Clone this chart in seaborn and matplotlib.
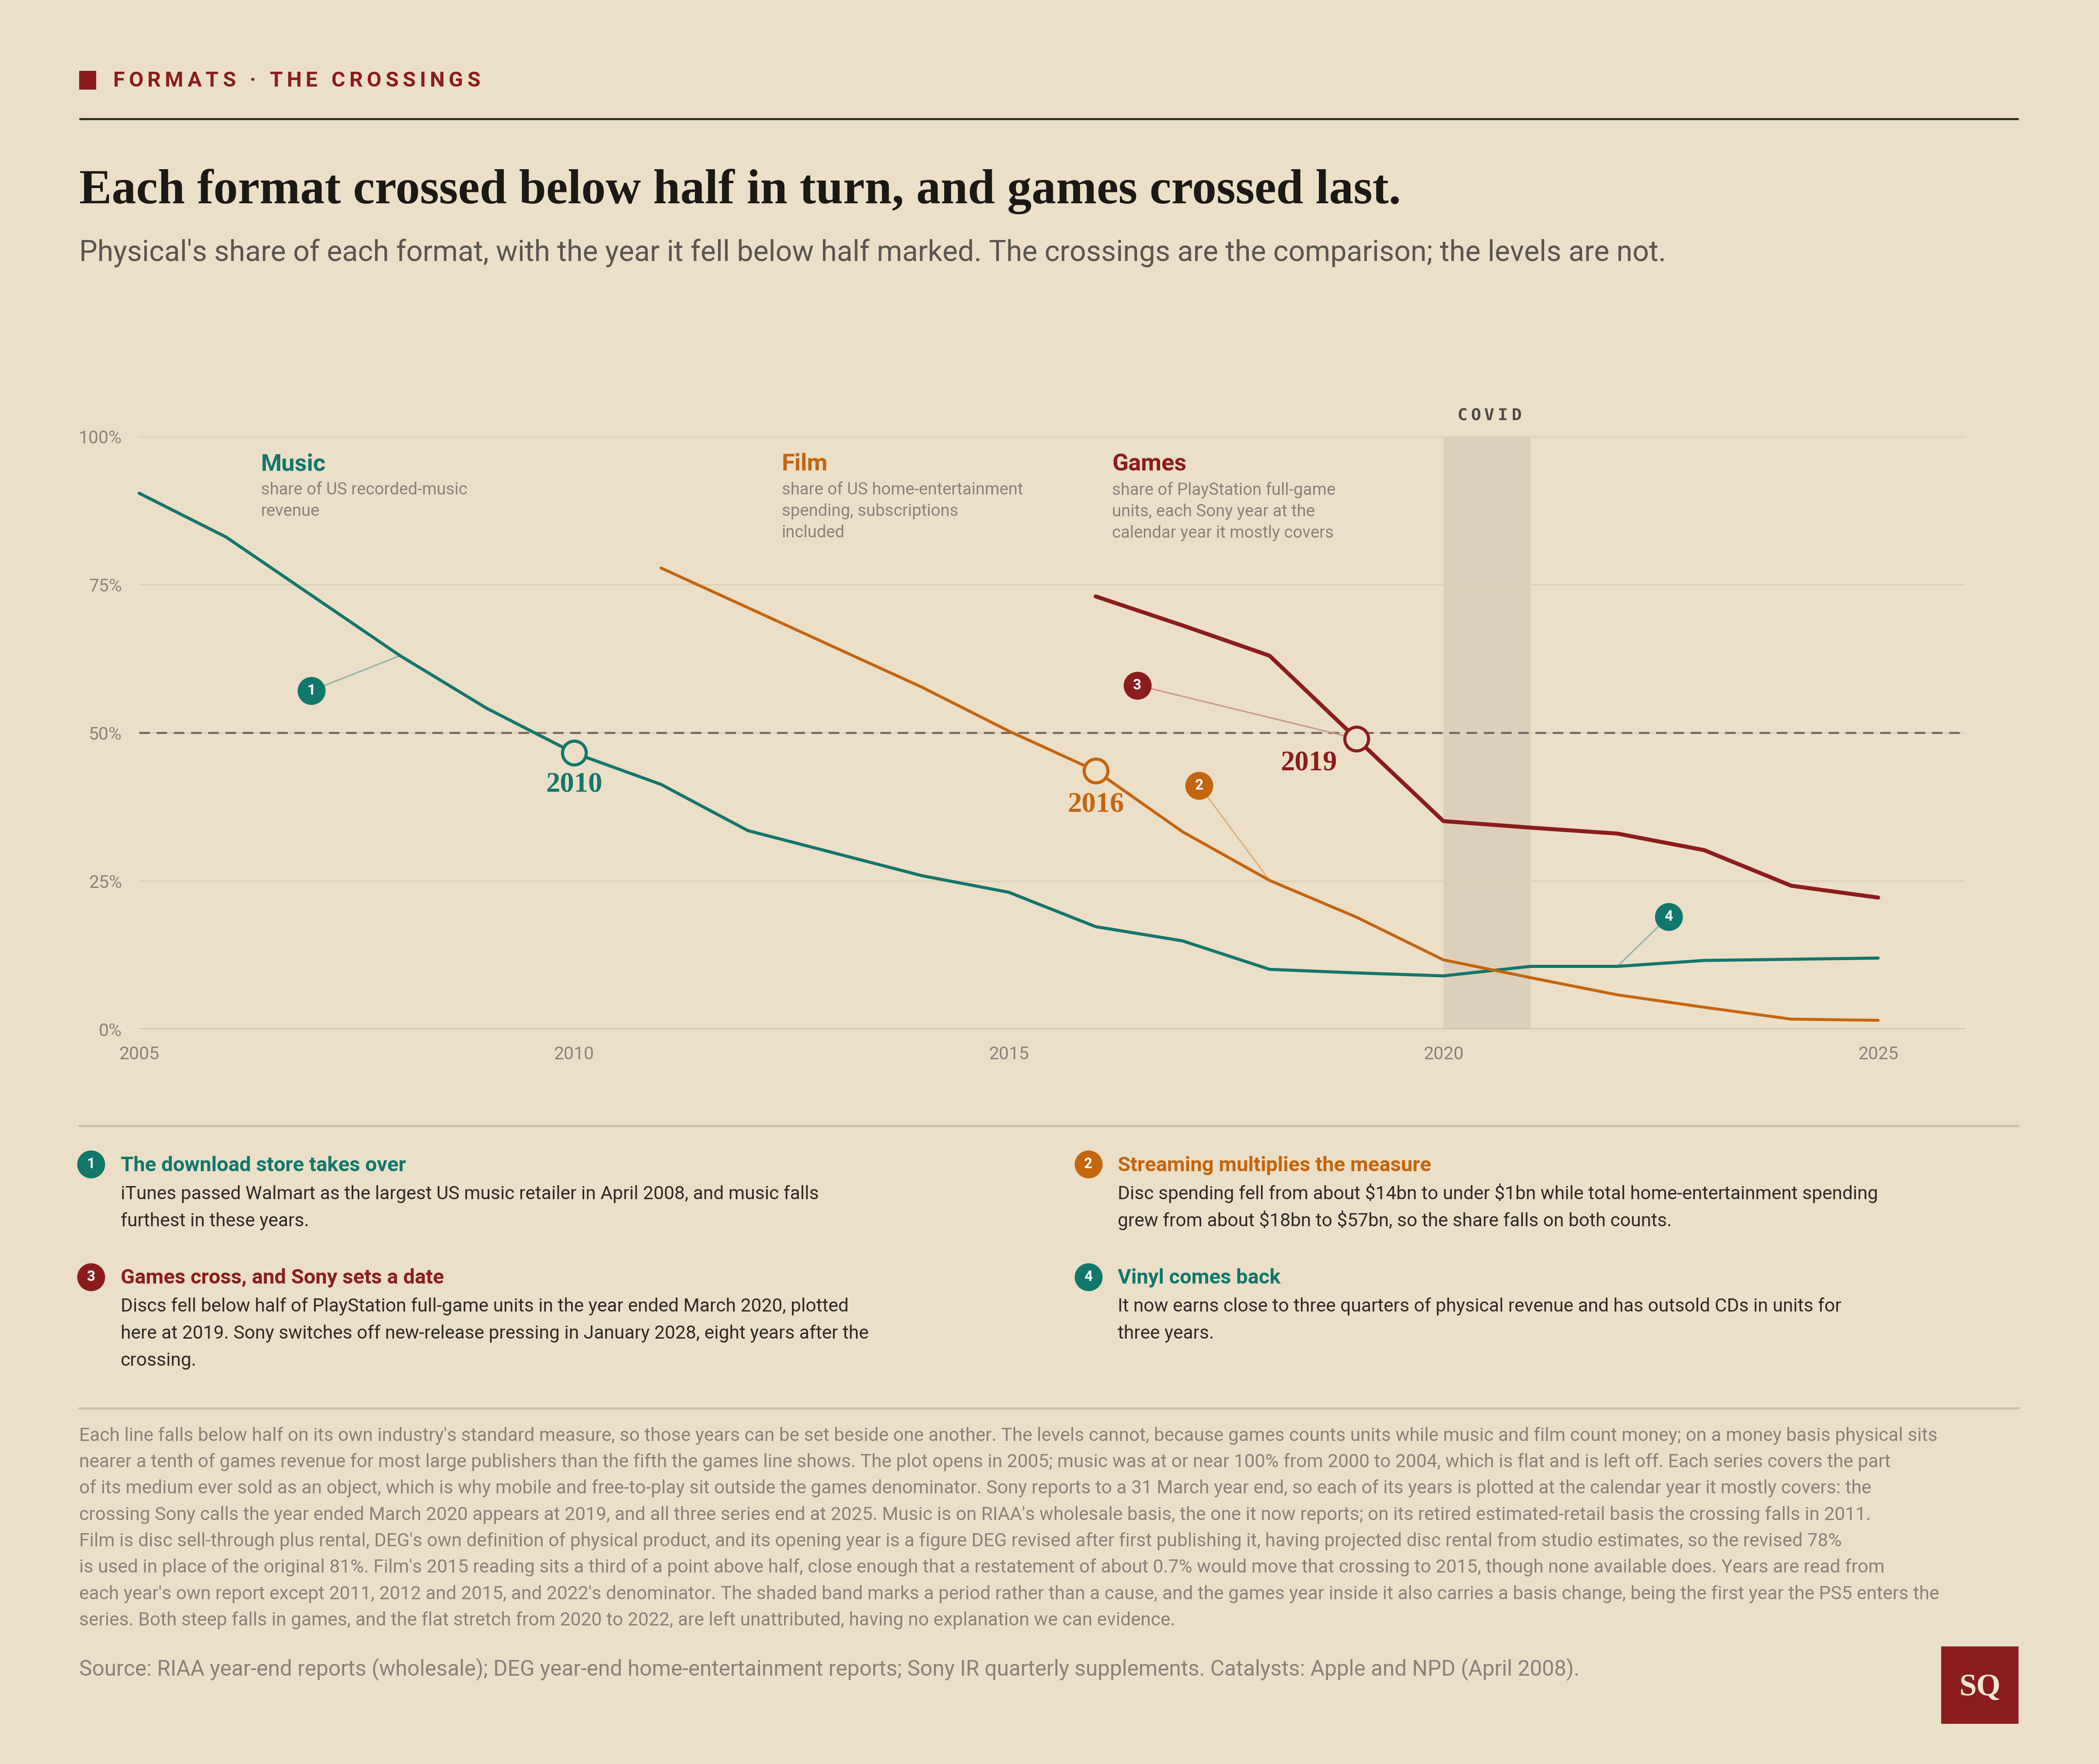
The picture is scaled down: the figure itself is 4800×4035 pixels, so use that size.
import numpy as np
import pandas as pd
import matplotlib
matplotlib.use("Agg")
import matplotlib.pyplot as plt
from matplotlib.patches import Rectangle
import seaborn as sns

# --- data (% physical share) ---
music_years = list(range(2005, 2026))
music_share = [90.4, 83.0, 73.0, 63.0, 54.1, 46.6, 41.3, 33.5, 29.7, 25.9, 23.1,
               17.3, 14.9, 10.1, 9.5, 9.0, 10.6, 10.6, 11.6, 11.8, 12.0]
film_years = list(range(2011, 2026))
film_share = [77.8, 71.1, 64.4, 57.7, 50.3, 43.6, 33.3, 25.1, 18.9, 11.7, 8.7,
              5.8, 3.7, 1.7, 1.5]
games_years = list(range(2016, 2026))
games_share = [73.0, 68.1, 63.0, 49.0, 35.1, 34.0, 33.0, 30.2, 24.2, 22.2]

formats = ["Music", "Film", "Games"]
crossing_year = {"Music": 2010, "Film": 2016, "Games": 2019}
covid_span = (2020, 2021)
y_ticks = [0, 25, 50, 75, 100]
x_ticks = [2005, 2010, 2015, 2020, 2025]

series_desc = {
    "Music": "share of US recorded-music\nrevenue",
    "Film": "share of US home-entertainment\nspending, subscriptions\nincluded",
    "Games": "share of PlayStation full-game\nunits, each Sony year at the\ncalendar year it mostly covers",
}
# catalyst badges: number, format, year the leader points at
badges = [(1, "Music", 2008), (2, "Film", 2018), (3, "Games", 2019), (4, "Music", 2022)]

notes = [
    (1, "Music", "The download store takes over",
     ["iTunes passed Walmart as the largest US music retailer in April 2008, and music falls",
      "furthest in these years."]),
    (2, "Film", "Streaming multiplies the measure",
     ["Disc spending fell from about $14bn to under $1bn while total home-entertainment spending",
      "grew from about $18bn to $57bn, so the share falls on both counts."]),
    (3, "Games", "Games cross, and Sony sets a date",
     ["Discs fell below half of PlayStation full-game units in the year ended March 2020, plotted",
      "here at 2019. Sony switches off new-release pressing in January 2028, eight years after the",
      "crossing."]),
    (4, "Music", "Vinyl comes back",
     ["It now earns close to three quarters of physical revenue and has outsold CDs in units for",
      "three years."]),
]

footnote = [
    "Each line falls below half on its own industry's standard measure, so those years can be set beside one another. The levels cannot, because games counts units while music and film count money; on a money basis physical sits",
    "nearer a tenth of games revenue for most large publishers than the fifth the games line shows. The plot opens in 2005; music was at or near 100% from 2000 to 2004, which is flat and is left off. Each series covers the part",
    "of its medium ever sold as an object, which is why mobile and free-to-play sit outside the games denominator. Sony reports to a 31 March year end, so each of its years is plotted at the calendar year it mostly covers: the",
    "crossing Sony calls the year ended March 2020 appears at 2019, and all three series end at 2025. Music is on RIAA's wholesale basis, the one it now reports; on its retired estimated-retail basis the crossing falls in 2011.",
    "Film is disc sell-through plus rental, DEG's own definition of physical product, and its opening year is a figure DEG revised after first publishing it, having projected disc rental from studio estimates, so the revised 78%",
    "is used in place of the original 81%. Film's 2015 reading sits a third of a point above half, close enough that a restatement of about 0.7% would move that crossing to 2015, though none available does. Years are read from",
    "each year's own report except 2011, 2012 and 2015, and 2022's denominator. The shaded band marks a period rather than a cause, and the games year inside it also carries a basis change, being the first year the PS5 enters the",
    "series. Both steep falls in games, and the flat stretch from 2020 to 2022, are left unattributed, having no explanation we can evidence.",
]
source = ("Source: RIAA year-end reports (wholesale); DEG year-end home-entertainment reports; "
          "Sony IR quarterly supplements. Catalysts: Apple and NPD (April 2008).")

# --- style ---
BG = "#EBDFC7"
INK = "#1C1915"
BODY = "#2F2A24"
MUTED = "#8A8178"
SUB = "#5A554E"
GRID = "#DDD1B7"
RULE = "#CABEA4"
BAND = "#DDD0BA"
colors = {"Music": "#12776C", "Film": "#C4650F", "Games": "#8B1D1D"}
leader = {"Music": "#93B5A6", "Film": "#E0B07A", "Games": "#C99A8A"}
widths = {"Music": 1.7, "Film": 1.6, "Games": 2.2}

sns.set_theme(style="white")
plt.rcParams["font.family"] = ["Roboto", "DejaVu Sans"]
plt.rcParams["text.parse_math"] = False
SERIF = ["Liberation Serif", "DejaVu Serif"]
MONO = ["DejaVu Sans Mono"]

W, H = 1568, 1318  # layout grid (reference preview pixels)
fig = plt.figure(figsize=(16, 13.45), dpi=300, facecolor=BG)

# overlay in layout pixels for header / notes / footer
over = fig.add_axes([0, 0, 1, 1])
over.set_xlim(0, W)
over.set_ylim(H, 0)
over.axis("off")
over.patch.set_visible(False)

renderer = fig.canvas.get_renderer()
SCALE = 4800 / W


def tracked(ax, x, y, s, width, ha="left", **kw):
    """letter-spaced text laid out char by char in layout pixels"""
    ws = []
    for ch in s:
        if ch == " ":
            ws.append(kw["fontsize"] * 0.28 * 300 / 72 / SCALE)
            continue
        t = over.text(0, 0, ch, **kw)
        ws.append(t.get_window_extent(renderer).width / SCALE)
        t.remove()
    gap = (width - sum(ws)) / (len(s) - 1)
    x0 = x - width / 2 if ha == "center" else x
    for ch, w in zip(s, ws):
        if ch != " ":
            over.text(x0, y, ch, ha="left", va="baseline", **kw)
        x0 += w + gap


# header
over.add_patch(Rectangle((59, 53), 13, 14, color=colors["Games"], lw=0))
tracked(over, 84.6, 64.6, "FORMATS · THE CROSSINGS", 274, fontsize=11.6,
        fontweight="bold", color=colors["Games"])
over.plot([59, 1508], [89, 89], color="#2A2620", lw=1.1, solid_capstyle="butt")
over.text(59, 152, "Each format crossed below half in turn, and games crossed last.",
          family=SERIF, fontweight="bold", fontsize=26.8, color=INK, va="baseline")
over.text(59, 195, "Physical's share of each format, with the year it fell below half marked. "
          "The crossings are the comparison; the levels are not.",
          fontsize=15.9, color=SUB, va="baseline")

# --- chart ---
ax = fig.add_axes([104 / W, 1 - 769 / H, (1468 - 104) / W, (769 - 326) / H])
ax.set_facecolor(BG)
df = pd.concat([
    pd.DataFrame({"year": music_years, "share": music_share, "format": "Music"}),
    pd.DataFrame({"year": film_years, "share": film_share, "format": "Film"}),
    pd.DataFrame({"year": games_years, "share": games_share, "format": "Games"}),
])

ax.axvspan(*covid_span, color=BAND, lw=0, zorder=0)
for v in y_ticks[1:]:
    ax.axhline(v, color=GRID, lw=0.8, zorder=0.5)
ax.axhline(0, color=RULE, lw=1.0, zorder=0.6)
ax.axhline(50, color="#6F6860", lw=1.1, ls=(0, (5.3, 3.3)), zorder=1)

for f in formats:
    sub = df[df["format"] == f]
    sns.lineplot(data=sub, x="year", y="share", ax=ax, color=colors[f],
                 linewidth=widths[f], legend=False, zorder=3, clip_on=False)

ax.set_xlim(2005, 2026)
ax.set_ylim(0, 100)
ax.set_xticks(x_ticks)
ax.set_yticks(y_ticks, [f"{v}%" for v in y_ticks])
ax.tick_params(axis="both", length=0, labelsize=9.8, labelcolor=MUTED)
ax.tick_params(axis="y", pad=9.5)
ax.tick_params(axis="x", pad=9)
ax.set_xlabel("")
ax.set_ylabel("")
for sp in ax.spines.values():
    sp.set_visible(False)

# labels: half / COVID
tracked(over, 109, 539, "half", 30, fontsize=9, fontweight="bold", family=MONO, color="#6A645B")
tracked(over, 1112.5, 314, "COVID", 48, ha="center", fontsize=9.2, fontweight="bold",
        family=MONO, color="#4E4943")

# series labels
label_x = {"Music": 2006.4, "Film": 2012.39, "Games": 2016.19}
for f in formats:
    ax.text(label_x[f], 95.3, f, color=colors[f], fontsize=13, fontweight="bold",
            va="center", ha="left")
    ax.text(label_x[f], 92.3, series_desc[f], color=MUTED, fontsize=9.2,
            va="top", ha="left", linespacing=1.4)

# crossings
series = {"Music": (music_years, music_share), "Film": (film_years, film_share),
          "Games": (games_years, games_share)}
cross_label = {"Music": (0.0, -5.3), "Film": (0.0, -5.7), "Games": (-0.55, -4.1)}
for f in formats:
    yrs, vals = series[f]
    yr = crossing_year[f]
    v = vals[yrs.index(yr)]
    ax.scatter([yr], [v], s=170, facecolor=BG, edgecolor=colors[f], linewidth=1.7,
               zorder=5, clip_on=False)
    dx, dy = cross_label[f]
    ax.text(yr + dx, v + dy, str(yr), family=SERIF, fontweight="bold", fontsize=15.5,
            color=colors[f], ha="center", va="center")

# catalyst badges
badge_pos = {1: (2006.98, 57.1), 2: (2017.19, 41.1), 3: (2016.48, 58.0), 4: (2022.59, 19.0)}
for n, f, yr in badges:
    yrs, vals = series[f]
    bx, by = badge_pos[n]
    ax.plot([bx, yr], [by, vals[yrs.index(yr)]], color=leader[f], lw=0.8, zorder=2)
    ax.scatter([bx], [by], s=235, color=colors[f], zorder=6, lw=0)
    ax.text(bx, by, str(n), color="white", fontsize=8, fontweight="bold",
            ha="center", va="center", zorder=7)

# --- notes ---
over.plot([59, 1508], [841, 841], color=RULE, lw=1.1)
note_xy = {1: (68, 870), 2: (813, 870), 3: (68, 954), 4: (813, 954)}
for n, f, head, lines in notes:
    bx, by = note_xy[n]
    over.scatter([bx], [by], s=235, color=colors[f], lw=0, zorder=5)
    over.text(bx, by, str(n), color="white", fontsize=8, fontweight="bold",
              ha="center", va="center", zorder=6)
    over.text(bx + 22, by + 5, head, color=colors[f], fontsize=11.3, fontweight="bold",
              va="baseline")
    for i, ln in enumerate(lines):
        over.text(bx + 22, by + 26 + 20.2 * i, ln, color=BODY, fontsize=10.2, va="baseline")

over.plot([59, 1508], [1052, 1052], color=RULE, lw=1.1)
for i, ln in enumerate(footnote):
    over.text(59, 1076.5 + 19.7 * i, ln, color=MUTED, fontsize=10.2, va="baseline")
over.text(59, 1252, source, color=MUTED, fontsize=11.9, va="baseline")

# logo
over.add_patch(Rectangle((1450, 1230), 58, 58, color=colors["Games"], lw=0))
over.text(1479, 1261, "SQ", family=SERIF, fontweight="bold", fontsize=17,
          color="#F1E6D2", ha="center", va="center")

fig.savefig("out.png", dpi=300, facecolor=BG)
